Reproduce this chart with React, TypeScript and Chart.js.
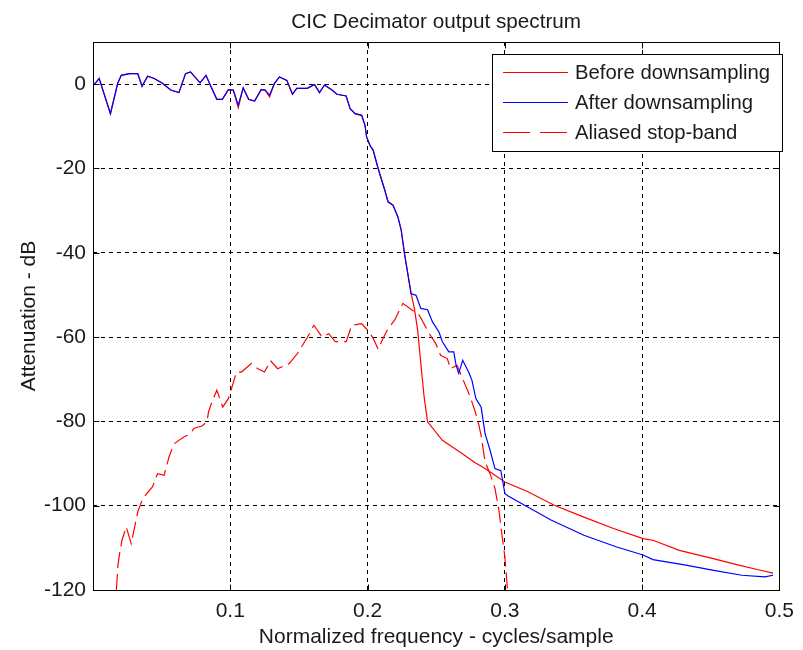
import React, { useEffect, useRef } from 'react';
import { Chart, registerables } from 'chart.js';

Chart.register(...registerables);

const chartTitle = 'CIC Decimator output spectrum';
const xAxisLabel = 'Normalized frequency - cycles/sample';
const yAxisLabel = 'Attenuation - dB';
const seriesNames = ['Before downsampling', 'After downsampling', 'Aliased stop-band'];

const xTicks = [0.1, 0.2, 0.3, 0.4, 0.5];
const yTicks = [-120, -100, -80, -60, -40, -20, 0];

const afterX = [
  0.0007, 0.0045, 0.0127, 0.018, 0.0206, 0.0266, 0.0326, 0.0357, 0.0398, 0.0446,
  0.0506, 0.0566, 0.0626, 0.0674, 0.071, 0.078, 0.0823, 0.0854, 0.0902, 0.0942,
  0.0986, 0.1022, 0.1058, 0.1094, 0.1134, 0.1177, 0.1225, 0.1254, 0.1286, 0.1322,
  0.1358, 0.1412, 0.1453, 0.1484, 0.1561, 0.1614, 0.165, 0.1686, 0.1741, 0.1777,
  0.1844, 0.1873, 0.1909, 0.1957, 0.1981, 0.1993, 0.2017, 0.2041, 0.2077, 0.2125,
  0.2149, 0.2185, 0.2221, 0.2245, 0.2269, 0.2305, 0.2317, 0.2353, 0.2388, 0.2437,
  0.2473, 0.252, 0.2545, 0.2592, 0.2628, 0.2645, 0.2664, 0.2693, 0.2736, 0.276,
  0.2789, 0.2827, 0.2856, 0.2892, 0.2928, 0.2971, 0.3, 0.3024, 0.3144, 0.3336,
  0.3576, 0.3815, 0.4007, 0.4079, 0.4319, 0.4511, 0.4727, 0.4894, 0.4954,
];
const afterY = [
  -0.2, 1.35, -7, 0.2, 2.1, 2.5, 2.5, -0.5, 1.9, 1.35,
  0.2, -1.4, -2, 2.5, 2.9, 0.3, 2.1, -0.2, -3.6, -3.6,
  -1.3, -1.4, -5, -0.9, -3.6, -4, -1.3, -1.4, -2.6, 0.2,
  1.7, 0.9, -2.4, -1, -1, -0.1, -2, -0.2, -1.4, -2.4,
  -2.8, -5.8, -7, -7.4, -9.7, -12.5, -14.5, -15.7, -20, -25.1,
  -27.9, -28.7, -31.5, -34.6, -40.2, -47.3, -49.7, -50.1, -53.2, -53.5,
  -56.4, -58.8, -61.1, -63.5, -63.5, -66.7, -68.6, -65.5, -68.3, -70.2,
  -74.6, -76.6, -82.9, -86.8, -91.2, -91.7, -97.1, -97.7, -99.9, -103.4,
  -107, -109.8, -111.7, -112.8, -114.1, -115.3, -116.5, -116.9, -116.5,
];

const beforeX = [
  0.0007, 0.0045, 0.0127, 0.018, 0.0206, 0.0266, 0.0326, 0.0357, 0.0398, 0.0446,
  0.0506, 0.0566, 0.0626, 0.0674, 0.071, 0.078, 0.0823, 0.0854, 0.0902, 0.0942,
  0.0986, 0.1022, 0.1058, 0.1094, 0.1134, 0.1177, 0.1225, 0.1254, 0.1286, 0.1322,
  0.1358, 0.1412, 0.1453, 0.1484, 0.1561, 0.1614, 0.165, 0.1686, 0.1741, 0.1777,
  0.1844, 0.1873, 0.1909, 0.1957, 0.1981, 0.1993, 0.2017, 0.2041, 0.2077, 0.2125,
  0.2149, 0.2185, 0.2221, 0.2245, 0.2269, 0.2305, 0.2317, 0.2341, 0.2365, 0.2388,
  0.2412, 0.2437, 0.2545, 0.2688, 0.2784, 0.2856, 0.3, 0.3168, 0.336, 0.3576,
  0.3791, 0.4007, 0.4079, 0.4271, 0.4511, 0.4703, 0.4847, 0.4954,
];
const beforeY = [
  -0.2, 1.35, -7, 0.2, 2.1, 2.5, 2.5, -0.5, 1.9, 1.35,
  0.2, -1.4, -2, 2.5, 2.9, 0.3, 2.1, -0.2, -3.6, -3.6,
  -1.3, -1.4, -5.6, -0.9, -3.6, -4, -1.3, -1.4, -3, 0.2,
  1.7, 0.9, -2.4, -1, -1, -0.1, -2, -0.2, -1.4, -2.4,
  -2.8, -5.8, -7, -7.4, -9.7, -12.5, -14.5, -15.7, -20, -25.1,
  -27.9, -28.7, -31.5, -34.6, -40.2, -47.3, -49.7, -53.2, -58.4, -66.3,
  -74.2, -80.1, -84.5, -87.6, -89.8, -91.2, -94.4, -96.7, -99.9, -102.7,
  -105.4, -107.8, -108.2, -110.6, -112.5, -114.1, -115.2, -116,
];

const aliasX = [
  0.017, 0.0182, 0.0194, 0.0211, 0.0242, 0.0278, 0.0309, 0.0326, 0.0362, 0.0434,
  0.047, 0.0518, 0.0554, 0.059, 0.0662, 0.071, 0.0734, 0.0794, 0.083, 0.0842,
  0.0866, 0.0902, 0.0945, 0.0986, 0.1009, 0.1045, 0.1081, 0.1153, 0.1201, 0.1249,
  0.1293, 0.1345, 0.1429, 0.1489, 0.1561, 0.1609, 0.1669, 0.1717, 0.1765, 0.1844,
  0.1885, 0.1957, 0.2012, 0.2041, 0.2077, 0.2113, 0.2149, 0.2197, 0.2257, 0.2341,
  0.2377, 0.2448, 0.2496, 0.2532, 0.2581, 0.2604, 0.2652, 0.2676, 0.2712, 0.2748,
  0.2784, 0.2808, 0.2827, 0.2856, 0.2892, 0.2928, 0.2957, 0.2981, 0.3, 0.3012, 0.3019,
];
const aliasY = [
  -120, -114.1, -111.3, -108.2, -105, -109, -104.2, -101.5, -98.3, -95.5,
  -92.4, -92.8, -88.4, -85.3, -83.7, -82.9, -81.7, -81.1, -80.1, -77.7,
  -75.4, -72.6, -76.6, -74.6, -72.2, -68.3, -68.3, -66.3, -67.5, -68.3,
  -65.6, -67.5, -66.3, -63.9, -60.1, -57.2, -60, -59.2, -61.1, -61.1,
  -57.2, -56.8, -58.8, -60.3, -62.9, -60.3, -58, -56, -52, -54,
  -54.8, -59.1, -61.5, -64.3, -65.1, -67.5, -66.7, -68.6, -71.4, -74.2,
  -77.7, -80.5, -83.3, -89.6, -92.4, -95.9, -101.1, -107.4, -112.1, -116.9, -120,
];

const FONT = '"Liberation Sans", Arial, Helvetica, sans-serif';
const TEXT = '#1a1a1a';
const RED = '#ff0000';
const BLUE = '#0000ff';

const zip = (xs: number[], ys: number[]) => xs.map((x, i) => ({ x, y: ys[i] }));

const matlabPlugin = {
  id: 'matlabDecor',
  afterDatasetsDraw(chart: any) {
    const { ctx, chartArea: a, scales } = chart;
    const xs = scales.x;
    const ys = scales.y;
    const L = Math.round(a.left) + 0.5;
    const R = Math.round(a.right) + 0.5;
    const T = Math.round(a.top) + 0.5;
    const B = Math.round(a.bottom) + 0.5;
    ctx.save();
    ctx.setLineDash([]);
    ctx.strokeStyle = '#000';
    ctx.lineWidth = 1;
    // axis box
    ctx.strokeRect(L, T, R - L, B - T);
    // inward tick marks on all four sides
    ctx.beginPath();
    xTicks.forEach((v) => {
      const px = Math.round(xs.getPixelForValue(v)) + 0.5;
      ctx.moveTo(px, B); ctx.lineTo(px, B - 6);
      ctx.moveTo(px, T); ctx.lineTo(px, T + 6);
    });
    yTicks.forEach((v) => {
      const py = Math.round(ys.getPixelForValue(v)) + 0.5;
      ctx.moveTo(L, py); ctx.lineTo(L + 6, py);
      ctx.moveTo(R, py); ctx.lineTo(R - 6, py);
    });
    ctx.stroke();

    // legend
    const lx = 492.5, ly = 54.5, lw = 290, lh = 97;
    ctx.fillStyle = '#fff';
    ctx.fillRect(lx, ly, lw, lh);
    ctx.strokeStyle = '#000';
    ctx.strokeRect(lx, ly, lw, lh);
    const rows = [72.5, 102.5, 132.5];
    const colors = [RED, BLUE, RED];
    ctx.font = `20.3px ${FONT}`;
    ctx.textBaseline = 'middle';
    ctx.textAlign = 'left';
    seriesNames.forEach((name, i) => {
      ctx.strokeStyle = colors[i];
      ctx.lineWidth = 1;
      ctx.setLineDash(i === 2 ? [27, 10] : []);
      ctx.beginPath();
      ctx.moveTo(503, rows[i]);
      ctx.lineTo(568, rows[i]);
      ctx.stroke();
      ctx.setLineDash([]);
      ctx.fillStyle = TEXT;
      ctx.fillText(name, 575, rows[i] + 1);
    });

    // title and axis labels
    const cx = (a.left + a.right) / 2;
    ctx.fillStyle = TEXT;
    ctx.textAlign = 'center';
    ctx.textBaseline = 'alphabetic';
    ctx.font = `20.7px ${FONT}`;
    ctx.fillText(chartTitle, cx, 28);
    ctx.font = `21px ${FONT}`;
    ctx.fillText(xAxisLabel, cx, 643);
    ctx.translate(35, (a.top + a.bottom) / 2);
    ctx.rotate(-Math.PI / 2);
    ctx.fillText(yAxisLabel, 0, 0);
    ctx.restore();
  },
};

export default function App() {
  const ref = useRef<HTMLCanvasElement | null>(null);

  useEffect(() => {
    if (!ref.current) return;
    const chart = new Chart(ref.current, {
      type: 'line',
      data: {
        datasets: [
          {
            label: seriesNames[0],
            data: zip(beforeX, beforeY),
            borderColor: RED,
            borderWidth: 1.2,
            pointRadius: 0,
            tension: 0,
            fill: false,
            order: 1,
          },
          {
            label: seriesNames[1],
            data: zip(afterX, afterY),
            borderColor: BLUE,
            borderWidth: 1.2,
            pointRadius: 0,
            tension: 0,
            fill: false,
            order: 0,
          },
          {
            label: seriesNames[2],
            data: zip(aliasX, aliasY),
            borderColor: RED,
            borderWidth: 1.2,
            borderDash: [16, 6],
            pointRadius: 0,
            tension: 0,
            fill: false,
            order: 2,
          },
        ],
      },
      options: {
        responsive: false,
        devicePixelRatio: 1,
        animation: false,
        events: [],
        layout: { padding: { left: 0, top: 42, right: 15, bottom: 0 } },
        plugins: {
          legend: { display: false },
          title: { display: false },
          tooltip: { enabled: false },
        },
        scales: {
          x: {
            type: 'linear',
            min: 0,
            max: 0.5,
            afterBuildTicks: (s: any) => {
              s.ticks = xTicks.map((v) => ({ value: v }));
            },
            afterFit: (s: any) => {
              s.height = 60;
            },
            ticks: {
              autoSkip: false,
              maxRotation: 0,
              padding: 9,
              color: TEXT,
              font: { family: FONT, size: 21 },
              callback: (v: any) => Number(v).toFixed(1),
            },
            grid: { color: '#000', lineWidth: 1, drawTicks: false },
            border: { display: false, dash: [4, 4] },
          },
          y: {
            type: 'linear',
            min: -120,
            max: 10,
            afterBuildTicks: (s: any) => {
              s.ticks = yTicks.map((v) => ({ value: v }));
            },
            afterFit: (s: any) => {
              s.width = 93;
            },
            ticks: {
              autoSkip: false,
              padding: 7,
              color: TEXT,
              font: { family: FONT, size: 21 },
              callback: (v: any) => String(v),
            },
            grid: { color: '#000', lineWidth: 1, drawTicks: false },
            border: { display: false, dash: [4, 4] },
          },
        },
      },
      plugins: [matlabPlugin],
    } as any);
    return () => chart.destroy();
  }, []);

  return (
    <div style={{ position: 'fixed', left: 0, top: 0, width: 803, height: 650, background: '#fff' }}>
      <canvas ref={ref} width={803} height={650} style={{ display: 'block', width: 803, height: 650 }} />
    </div>
  );
}
